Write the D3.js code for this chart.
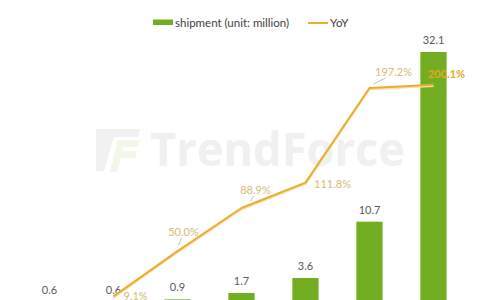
<!DOCTYPE html>
<html><head><meta charset="utf-8">
<script src="https://cdn.jsdelivr.net/npm/d3@7"></script>
<style>html,body{margin:0;padding:0;background:#fff;overflow:hidden}</style>
</head><body>
<svg id="c" width="480" height="300"></svg>
<script>
const categories = ["P1","P2","P3","P4","P5","P6","P7"];
const shipment = [0.6, 0.6, 0.9, 1.7, 3.6, 10.7, 32.1];
const yoy = [null, 9.1, 50.0, 88.9, 111.8, 197.2, 200.1];
const yoyLabels = ["", "9.1%", "50.0%", "88.9%", "111.8%", "197.2%", "200.1%"];
const legendLabels = ["shipment (unit: million)", "YoY"];
// label placement (layout, not data)
const yoyLabelOffsets = [null, [22,0], [6,-19], [14,-18], [27,1], [24,-16], [13,-11]];

const svg = d3.select("#c");
const font = "Lato, 'Open Sans', sans-serif";
const plotTop = 29, plotBottom = 306.5;

const x = d3.scaleBand().domain(categories).range([17.5, 465.5]).paddingInner(0.59).paddingOuter(0.295);
const y = d3.scaleLinear().domain([0, 35]).range([plotBottom, plotTop]);
const y2 = d3.scaleLinear().domain([0, 250]).range([plotBottom, plotTop + 0.5]);

// watermark
const wm = svg.append("g");
wm.append("path").attr("d","M96 129 L140 129 L138 137 L114 137 L104 171 L96 171 Z").attr("fill","#f1f1f1");
wm.append("path").attr("d","M118 140 L140 140 L138 147 L124 147 L123 151 L137 151 L135 158 L121 158 L117 172 L110 172 Z").attr("fill","#f1f8e8");
wm.append("text").attr("x",150).attr("y",166).attr("font-family","'Open Sans', sans-serif").attr("font-weight",700)
  .attr("font-size",47).attr("fill","#f0f0f0").attr("textLength",255).attr("lengthAdjust","spacingAndGlyphs").text("TrendForce");

// bars
svg.append("g").selectAll("rect").data(shipment).join("rect")
  .attr("x",(d,i)=>x(categories[i])).attr("width",x.bandwidth())
  .attr("y",d=>y(d)).attr("height",d=>plotBottom-y(d)).attr("fill","#72ad22");

// bar labels
svg.append("g").selectAll("text").data(shipment).join("text")
  .attr("x",(d,i)=>x(categories[i])+x.bandwidth()/2).attr("y",d=>y(d)-8)
  .attr("text-anchor","middle").attr("font-family",font).attr("font-size",11).attr("fill","#595959")
  .text(d=>d.toFixed(1));

// line
const pts = yoy.map((v,i)=>v==null?null:[x(categories[i])+x.bandwidth()/2, y2(v)]).filter(Boolean);
const line = d3.line();
svg.append("path").attr("d",line(pts.map(p=>[p[0],p[1]+1.2]))).attr("fill","none").attr("stroke","#f4dfab").attr("stroke-width",2);
svg.append("path").attr("d",line(pts)).attr("fill","none").attr("stroke","#e8ae30").attr("stroke-width",2).attr("stroke-linejoin","round");

// leader lines
const leaders = [[2,[4,-13],[1,-6]],[3,[12,-12],[9,-7]],[5,[16,-10],[4,-4]]];
svg.append("g").selectAll("line").data(leaders).join("line")
  .attr("x1",d=>x(categories[d[0]])+x.bandwidth()/2+d[1][0]).attr("y1",d=>y2(yoy[d[0]])+d[1][1])
  .attr("x2",d=>x(categories[d[0]])+x.bandwidth()/2+d[2][0]).attr("y2",d=>y2(yoy[d[0]])+d[2][1])
  .attr("stroke","#a6a6a6").attr("stroke-width",0.7);

// yoy labels
svg.append("g").selectAll("text").data(yoy.map((v,i)=>({v,i})).filter(d=>d.v!=null)).join("text")
  .attr("x",d=>x(categories[d.i])+x.bandwidth()/2+yoyLabelOffsets[d.i][0])
  .attr("y",d=>y2(d.v)+yoyLabelOffsets[d.i][1]+4)
  .attr("text-anchor","middle").attr("font-family",font).attr("font-size",11)
  .attr("font-weight",d=>d.i===6?700:400)
  .attr("fill",d=>d.i===6?"#e3aa22":"#d6bc72")
  .text(d=>yoyLabels[d.i]);

// legend
const lg = svg.append("g");
lg.append("rect").attr("x",153).attr("y",19.5).attr("width",20).attr("height",5.5).attr("fill","#72ad22");
lg.append("text").attr("x",175).attr("y",26.5).attr("font-family",font).attr("font-size",11.5).attr("fill","#404040").text(legendLabels[0]);
lg.append("line").attr("x1",308).attr("x2",328).attr("y1",23).attr("y2",23).attr("stroke","#e8ae30").attr("stroke-width",2);
lg.append("text").attr("x",330).attr("y",26.5).attr("font-family",font).attr("font-size",11.5).attr("fill","#404040").text(legendLabels[1]);
</script>
</body></html>
